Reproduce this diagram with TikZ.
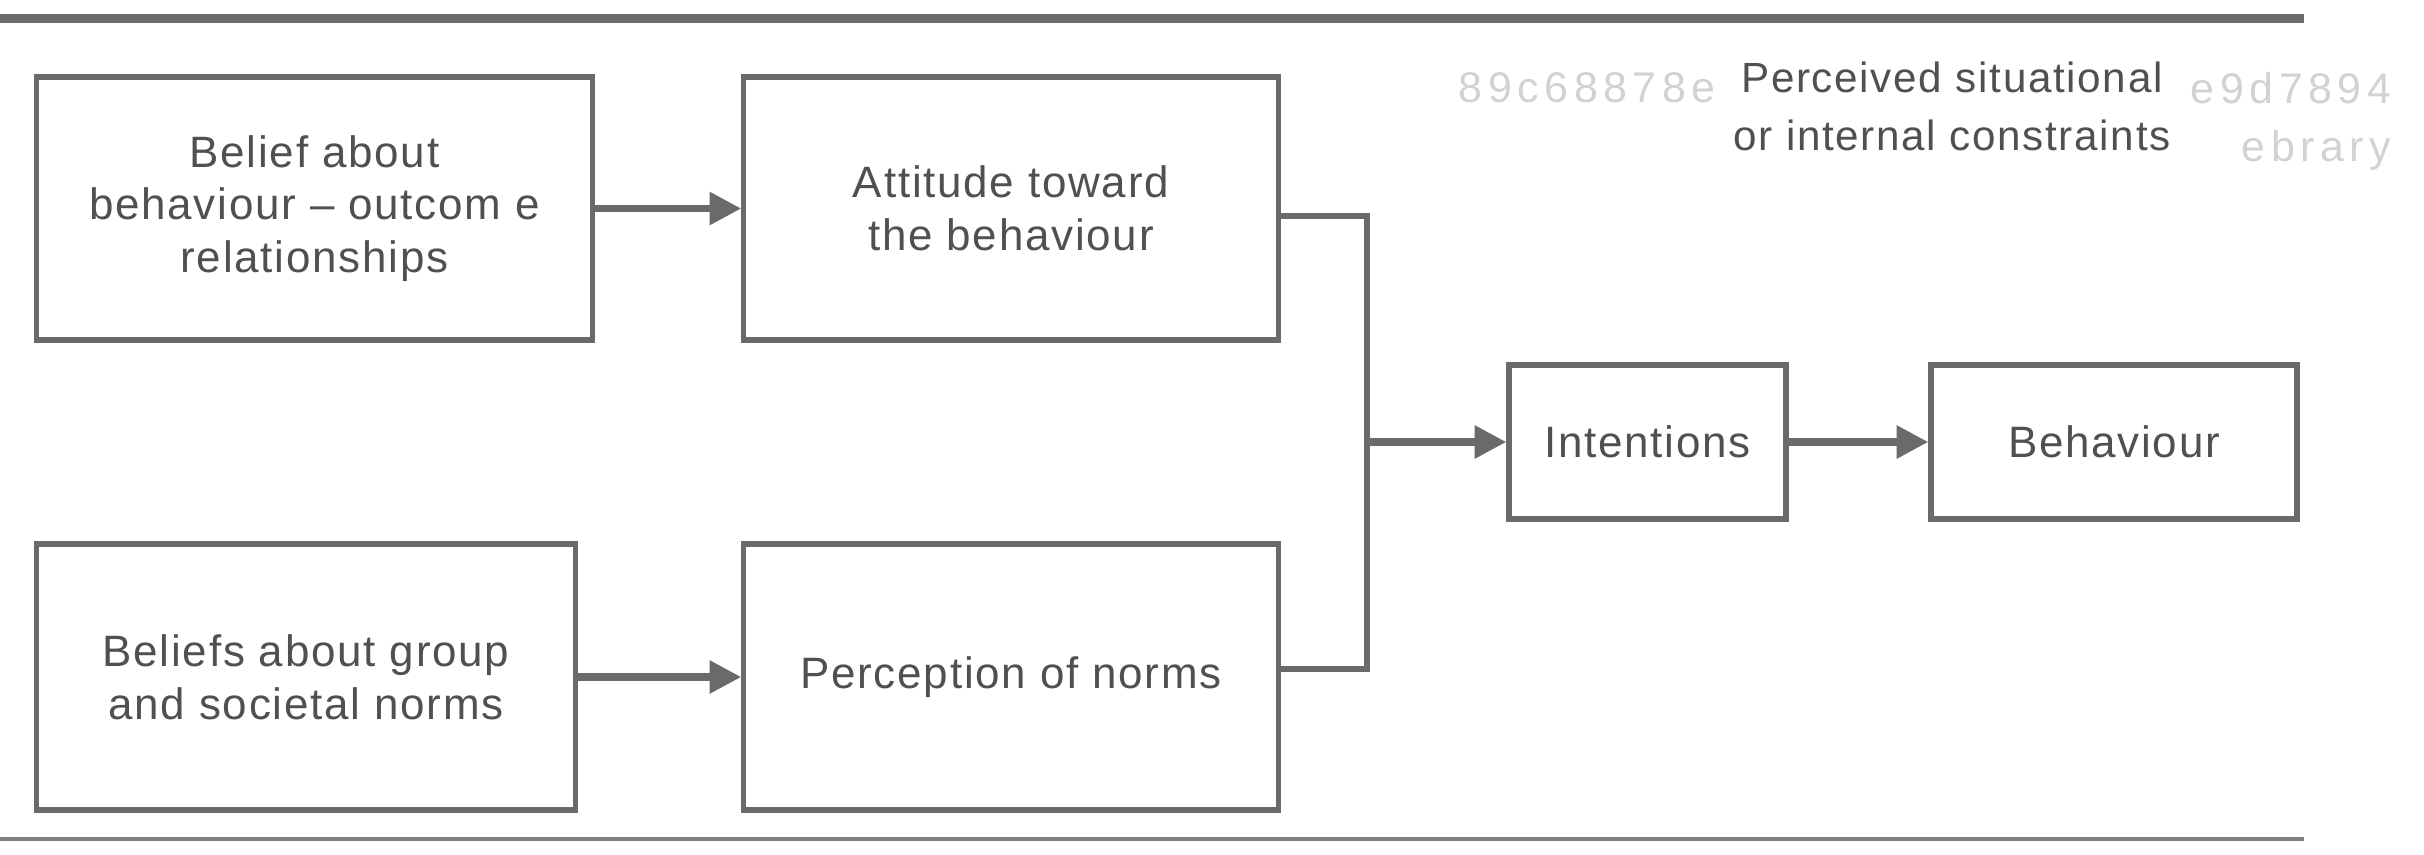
\documentclass[tikz,border=0pt]{standalone}
\usepackage{fontspec}
\setmainfont{Liberation Sans}
\newfontfamily\boxfont[LetterSpace=4]{Liberation Sans}
\newfontfamily\wmfont[LetterSpace=13]{Liberation Sans}
\usetikzlibrary{arrows.meta}
\definecolor{txtgray}{HTML}{505050}
\definecolor{linegray}{HTML}{6A6A6A}
\definecolor{rulegray}{HTML}{6A6A6A}
\definecolor{wmgray}{HTML}{D2D2D2}
\tikzset{
  stagebox/.style={draw=linegray, line width=1.5pt, align=center, text=txtgray,
    font=\boxfont\fontsize{12.5}{15}\selectfont, inner sep=0pt},
  conn/.style={draw=linegray, line width=1.5pt},
  arr/.style={draw=linegray, line width=2pt, -{Triangle[length=9pt,width=9pt]}},
  lbl/.style={text=txtgray, font=\boxfont\fontsize{12}{16.5}\selectfont, align=center, inner sep=0pt},
  wm/.style={text=wmgray, font=\wmfont\fontsize{12.2}{14}\selectfont, inner sep=0pt},
  hrule/.style={draw=rulegray, line width=2.6pt}
}
\begin{document}
\begin{tikzpicture}[x=0.01cm, y=-0.01cm]
\useasboundingbox (0,0) rectangle (2424,854);
% rules
\coordinate (rt1) at (0,18.5);
\coordinate (rt2) at (2304,18.5);
\coordinate (rb1) at (0,839);
\coordinate (rb2) at (2304,839);
\draw[hrule] (rt1) -- (rt2);
\draw[hrule, line width=1.4pt, draw=rulegray!85] (rb1) -- (rb2);
% watermark
\node[wm, anchor=west] (wm1) at (1458,88) {89c68878e};
\node[wm, anchor=east] (wm2) at (2392,88) {e9d7894};
\node[wm, anchor=east] (wm3) at (2392,150) {ebrary};
% label
\node[lbl] (cons) at (1952,106) {Perceived situational\\or internal constraints};
% boxes
\node[stagebox, minimum width=5.55cm, minimum height=2.63cm] (b1) at (314.5,208.5)
  {Belief about\\behaviour – outcom e\\relationships};
\node[stagebox, minimum width=5.34cm, minimum height=2.63cm] (b2) at (1011,208.5)
  {Attitude toward\\the behaviour};
\node[stagebox, minimum width=5.38cm, minimum height=2.66cm] (b3) at (306,677)
  {Beliefs about group\\and societal norms};
\node[stagebox, minimum width=5.34cm, minimum height=2.66cm] (b4) at (1011,677)
  {Perception of norms};
\node[stagebox, minimum width=2.77cm, minimum height=1.54cm] (int) at (1647.5,442)
  {Intentions};
\node[stagebox, minimum width=3.66cm, minimum height=1.54cm] (beh) at (2114,442)
  {Behaviour};
% connectors
\coordinate (ja) at (1367,216);
\coordinate (jb) at (1367,669);
\coordinate (jm) at (1367,442);
\draw[arr] (b1) -- (b2);
\draw[arr] (b3) -- (b4);
\draw[conn] (b2.east |- ja) -- (ja) -- (jb) -- (b4.east |- jb);
\draw[arr] (jm) -- (int);
\draw[arr] (int) -- (beh);
\end{tikzpicture}
\end{document}
